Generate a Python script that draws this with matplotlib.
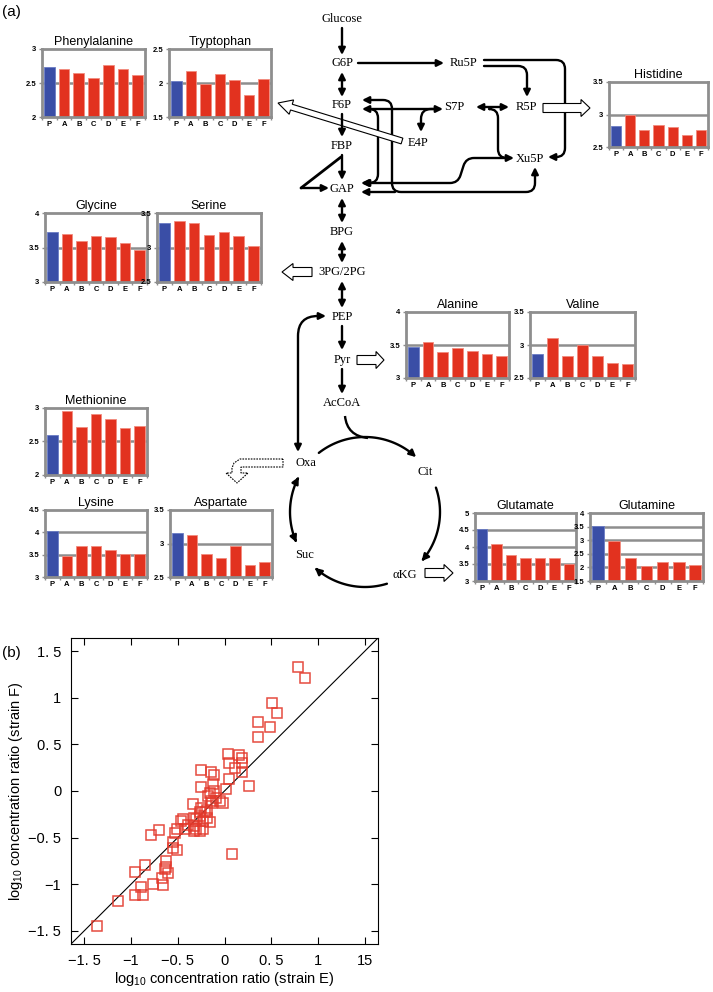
import numpy as np
import matplotlib
matplotlib.use('Agg')
import matplotlib.pyplot as plt
from matplotlib.path import Path
from matplotlib.patches import FancyArrowPatch, Polygon, PathPatch

plt.rcParams['font.family'] = ['Liberation Sans', 'DejaVu Sans']
plt.rcParams['mathtext.fontset'] = 'custom'
plt.rcParams['mathtext.rm'] = 'Liberation Sans'
plt.rcParams['mathtext.it'] = 'Liberation Sans'

# ---------------- data ----------------
strains = ['P', 'A', 'B', 'C', 'D', 'E', 'F']

phenylalanine = [2.74, 2.71, 2.64, 2.58, 2.77, 2.70, 2.62]
tryptophan = [2.03, 2.17, 1.98, 2.13, 2.05, 1.83, 2.06]
histidine = [2.82, 3.00, 2.76, 2.84, 2.81, 2.69, 2.76]
glycine = [3.73, 3.70, 3.59, 3.67, 3.65, 3.57, 3.46]
serine = [3.35, 3.39, 3.35, 3.18, 3.23, 3.16, 3.02]
alanine = [3.47, 3.55, 3.40, 3.45, 3.41, 3.37, 3.33]
valine = [2.87, 3.11, 2.83, 3.00, 2.84, 2.73, 2.71]
methionine = [2.59, 2.95, 2.71, 2.91, 2.83, 2.70, 2.73]
lysine = [4.04, 3.48, 3.70, 3.70, 3.60, 3.52, 3.51]
aspartate = [3.16, 3.12, 2.85, 2.78, 2.97, 2.68, 2.72]
glutamate = [4.52, 4.09, 3.77, 3.67, 3.67, 3.67, 3.49]
glutamine = [3.54, 2.96, 2.35, 2.04, 2.19, 2.21, 2.10]

# log10 concentration ratios, strain E (x) vs strain F (y)
ratio_E = [0.79, 0.86, 0.51, 0.56, 0.36, 0.49, 0.36, 0.04, 0.16, 0.19,
           0.05, 0.19, 0.11, -0.25, -0.14, 0.19, -0.11, 0.05, -0.12, -0.25,
           0.26, 0.02, -0.16, -0.18, -0.09, -0.05, -0.02, -0.34, -0.13, -0.25,
           -0.19, -0.26, -0.21, -0.33, -0.26, -0.19, -0.23, -0.16, -0.46, -0.39,
           -0.33, -0.51, -0.42, -0.30, -0.23, -0.26, -0.33, -0.70, -0.78, -0.53,
           -0.55, -0.55, -0.51, 0.08, -0.85, -0.96, -0.62, -0.62, -0.60, -0.64,
           -0.67, -0.89, -0.76, -0.66, -0.96, -0.87, -1.14, -1.36, -0.11, -0.14,
           -0.44, -0.30]
ratio_F = [1.33, 1.21, 0.94, 0.84, 0.74, 0.69, 0.58, 0.40, 0.39, 0.35,
           0.30, 0.30, 0.25, 0.23, 0.20, 0.20, 0.17, 0.13, 0.08, 0.04,
           0.05, 0.02, -0.02, -0.05, -0.08, -0.11, -0.13, -0.14, -0.13, -0.18,
           -0.20, -0.22, -0.23, -0.29, -0.27, -0.29, -0.32, -0.33, -0.32, -0.36,
           -0.38, -0.41, -0.41, -0.41, -0.41, -0.43, -0.43, -0.42, -0.47, -0.45,
           -0.55, -0.61, -0.63, -0.67, -0.79, -0.87, -0.75, -0.81, -0.88, -0.84,
           -0.93, -1.03, -1.00, -1.01, -1.11, -1.12, -1.18, -1.45, 0.00, -0.11,
           -0.30, -0.30]
scatter_ticks = [-1.5, -1, -0.5, 0, 0.5, 1, 1.5]
x_tick_labels = ['\u22121. 5', '\u22121', '\u22120. 5', '0', '0. 5', '1', '15']
y_tick_labels = ['\u22121. 5', '\u22121', '\u22120. 5', '0', '0. 5', '1', '1. 5']

W, H = 713, 992
BLUE = '#3a4ea6'
RED = '#e2321f'
GREY = '#8e8e8e'

fig = plt.figure(figsize=(W / 100, H / 100), dpi=100)

# ---------------- pathway layer (pixel coordinates) ----------------
pw = fig.add_axes([0, 0, 1, 1])
pw.set_xlim(0, W)
pw.set_ylim(H, 0)
pw.axis('off')

serif = dict(family='Liberation Serif', fontsize=9, ha='center', va='center')
nodes = {'Glucose': (342, 19), 'G6P': (342, 63), 'Ru5P': (464, 63),
         'F6P': (342, 105), 'S7P': (454, 107), 'R5P': (526, 107),
         'E4P': (418, 143), 'FBP': (342, 146), 'Xu5P': (530, 159),
         'GAP': (342, 189), 'BPG': (342, 232), '3PG/2PG': (342, 272),
         'PEP': (342, 317), 'Pyr': (342, 360), 'AcCoA': (342, 403),
         'Oxa': (306, 463), 'Cit': (425, 472), 'Suc': (305, 555),
         '\u03b1KG': (405, 575)}
for k, (x, y) in nodes.items():
    pw.text(x, y, k, **serif)

LW = 1.7
MS = 10


def arrow(p0, p1, style='-|>'):
    pw.annotate('', xy=p1, xytext=p0,
                arrowprops=dict(arrowstyle=style, lw=LW, color='k',
                                shrinkA=0, shrinkB=0, mutation_scale=MS))


def rounded(points, r=8):
    verts = [points[0]]
    codes = [Path.MOVETO]
    for i in range(1, len(points) - 1):
        p0, p1, p2 = (np.array(points[i - 1], float), np.array(points[i], float),
                      np.array(points[i + 1], float))
        d1 = (p1 - p0) / np.linalg.norm(p1 - p0)
        d2 = (p2 - p1) / np.linalg.norm(p2 - p1)
        verts += [tuple(p1 - d1 * r), tuple(p1), tuple(p1 + d2 * r)]
        codes += [Path.LINETO, Path.CURVE3, Path.CURVE3]
    verts.append(points[-1])
    codes.append(Path.LINETO)
    return Path(verts, codes)


def route(points, style='-|>', r=8):
    pw.add_patch(FancyArrowPatch(path=rounded(points, r), arrowstyle=style,
                                 lw=LW, color='k', mutation_scale=MS,
                                 fill=False))


# glycolysis trunk
arrow((342, 28), (342, 55))
arrow((342, 72), (342, 97), '<|-|>')
arrow((342, 114), (342, 137))
arrow((342, 155), (342, 180))
arrow((342, 198), (342, 223), '<|-|>')
arrow((342, 241), (342, 263), '<|-|>')
arrow((342, 281), (342, 308), '<|-|>')
arrow((342, 326), (342, 350))
arrow((342, 369), (342, 394))
# DHAP triangle
pw.plot([341, 301], [157, 188], color='k', lw=2, solid_capstyle='round')
arrow((301, 188), (329, 188))

# pentose phosphate branch
arrow((358, 63), (444, 63))
route([(484, 60), (565, 60), (565, 157), (548, 157)], r=9)
route([(484, 66), (527, 66), (527, 97)], r=9)
arrow((476, 107), (509, 107), '<|-|>')
arrow((362, 109), (443, 109), '<|-|>')
route([(436, 109), (421, 109), (421, 132)], r=10)
route([(370, 109), (378, 109), (378, 183), (361, 183)], r=9)
route([(362, 100), (392, 100), (392, 192), (535, 192), (535, 167)], '<|-|>', r=9)
arrow((395, 192), (361, 192))
route([(490, 109), (498, 109), (498, 158), (514, 158)], r=9)
route([(505, 158), (466, 158), (458, 183), (362, 183)], r=8)

# PEP <-> Oxa
route([(298, 452), (298, 316), (326, 316)], '<|-|>', r=20)

# TCA cycle
cx, cy, rc = 365, 512, 75


def arc(a0, a1, style='-|>'):
    th = np.radians(np.linspace(a0, a1, 40))
    pts = np.column_stack([cx + rc * np.cos(th), cy - rc * np.sin(th)])
    codes = [Path.MOVETO] + [Path.LINETO] * (len(pts) - 1)
    pw.add_patch(FancyArrowPatch(path=Path(pts, codes), arrowstyle=style,
                                 lw=LW, color='k', mutation_scale=MS))


arc(128, 47)
arc(19, -41)
arc(-73, -132)
arc(204, 152, '<|-|>')
pw.add_patch(PathPatch(Path([(345, 416), (347, 436), (368, 438)],
                            [Path.MOVETO, Path.CURVE3, Path.CURVE3]),
                       fill=False, lw=LW, color='k'))

# hollow arrows to amino acid panels
hollow = dict(fc='white', ec='k', lw=0.8, length_includes_head=True)
pw.arrow(402, 141, -124, -38, width=6, head_width=15, head_length=14, **hollow)
pw.arrow(543, 108, 47, 0, width=9, head_width=17, head_length=9, **hollow)
pw.arrow(312, 272, -30, 0, width=9, head_width=17, head_length=11, **hollow)
pw.arrow(357, 360, 27, 0, width=9, head_width=17, head_length=8, **hollow)
pw.arrow(425, 573, 28, 0, width=9, head_width=17, head_length=9, **hollow)
pw.add_patch(Polygon([(283, 459), (240, 459), (234, 463), (232, 468), (232, 473),
                      (226, 473), (237, 483), (248, 473), (241, 473), (241, 467),
                      (283, 467)], closed=True, fc='white', ec='k', lw=0.8,
                     ls=(0, (1.5, 1))))

pw.text(2, 12, '(a)', fontsize=11, ha='left', va='center')
pw.text(2, 653, '(b)', fontsize=11, ha='left', va='center')


# ---------------- amino acid bar panels ----------------
def panel(title, box, vals, lo, hi, step):
    l, t, r, b = box
    ax = fig.add_axes([l / W, 1 - b / H, (r - l) / W, (b - t) / H])
    ax.bar(range(7), vals, width=0.72, color=[BLUE] + [RED] * 6,
           edgecolor=['#6a7cc4'] + ['#f28b7e'] * 6, lw=0.6, zorder=2)
    ticks = np.arange(lo, hi + step / 2, step)
    for g in ticks[1:-1]:
        ax.axhline(g, color=GREY, lw=1.8, zorder=1)
    ax.set_xlim(-0.5, 6.5)
    ax.set_ylim(lo, hi)
    ax.set_yticks(ticks)
    ax.set_yticklabels(['%g' % v for v in ticks])
    ax.set_xticks(range(7))
    ax.set_xticklabels(strains)
    ax.set_xticks(np.arange(-0.5, 7, 1), minor=True)
    ax.tick_params(axis='x', which='major', length=0, pad=3)
    ax.tick_params(axis='x', which='minor', length=2.5, width=1, color=GREY)
    ax.tick_params(axis='y', length=2.5, width=1, color=GREY, pad=1.5)
    ax.tick_params(labelsize=5.5)
    for lab in ax.get_xticklabels() + ax.get_yticklabels():
        lab.set_fontweight('bold')
    for s in ax.spines.values():
        s.set_color(GREY)
        s.set_linewidth(2)
    ax.set_title(title, fontsize=9, pad=3)
    return ax


panel('Phenylalanine', (42, 49, 145, 117), phenylalanine, 2, 3, 0.5)
panel('Tryptophan', (169, 49, 271, 117), tryptophan, 1.5, 2.5, 0.5)
panel('Histidine', (609, 82, 708, 147), histidine, 2.5, 3.5, 0.5)
panel('Glycine', (45, 213, 147, 282), glycine, 3, 4, 0.5)
panel('Serine', (157, 213, 261, 282), serine, 2.5, 3.5, 0.5)
panel('Alanine', (406, 312, 509, 378), alanine, 3, 4, 0.5)
panel('Valine', (530, 312, 635, 378), valine, 2.5, 3.5, 0.5)
panel('Methionine', (45, 408, 147, 475), methionine, 2, 3, 0.5)
panel('Lysine', (45, 510, 147, 577), lysine, 3, 4.5, 0.5)
panel('Aspartate', (170, 510, 272, 577), aspartate, 2.5, 3.5, 0.5)
panel('Glutamate', (475, 513, 576, 581), glutamate, 3, 5, 0.5)
panel('Glutamine', (590, 513, 703, 581), glutamine, 1.5, 4, 0.5)

# ---------------- scatter (b) ----------------
l, t, r, b = 71, 638, 378, 944
sc = fig.add_axes([l / W, 1 - b / H, (r - l) / W, (b - t) / H])
lim = (-1.64, 1.64)
sc.plot(lim, lim, color='k', lw=0.8)
sc.plot(ratio_E, ratio_F, ls='none', marker='s', ms=6.5, mfc='none',
        mec='#e3392b', mew=1.1, alpha=0.9)
sc.set_xlim(lim)
sc.set_ylim(lim)
sc.set_xticks(scatter_ticks)
sc.set_xticklabels(x_tick_labels)
sc.set_yticks(scatter_ticks)
sc.set_yticklabels(y_tick_labels)
sc.tick_params(direction='in', length=5, width=0.8, top=True, right=True,
               labelsize=10.5, pad=7)
for s in sc.spines.values():
    s.set_linewidth(0.8)
sc.set_xlabel('log$_{10}$ concentration ratio (strain E)', fontsize=10.5, labelpad=2)
sc.set_ylabel('log$_{10}$ concentration ratio (strain F)', fontsize=10.5, labelpad=2)

fig.savefig('out.png', dpi=100)
